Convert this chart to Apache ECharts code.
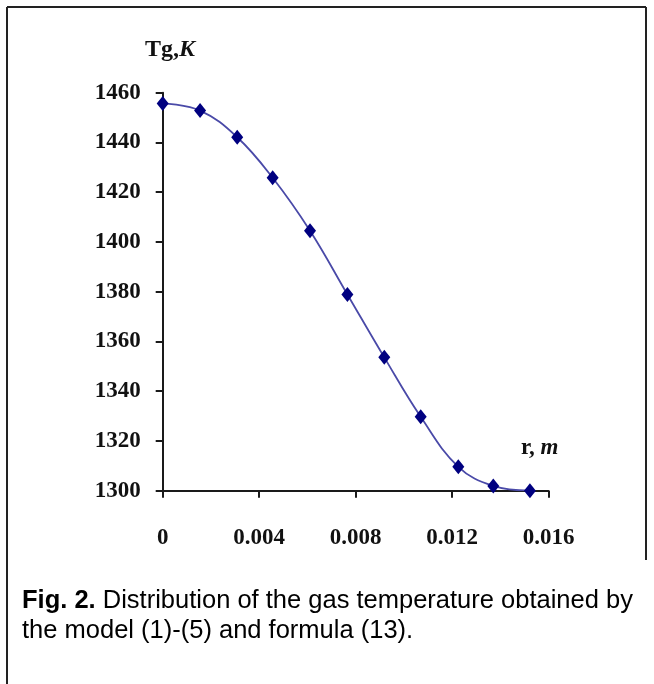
<!DOCTYPE html>
<html>
<head>
<meta charset="utf-8">
<script src="https://cdn.jsdelivr.net/npm/echarts@6/dist/echarts.min.js"></script>
<style>
html,body{margin:0;padding:0;background:#fff;}
#c{width:654px;height:684px;}
</style>
</head>
<body>
<div id="c"></div>
<script>
// Data
var rValues = [0, 0.00155, 0.00309, 0.00456, 0.00611, 0.00766, 0.00919, 0.0107, 0.01226, 0.01371, 0.01523];
var tgValues = [1455.7, 1452.8, 1442.1, 1425.8, 1404.5, 1378.9, 1353.6, 1329.7, 1309.6, 1301.9, 1300.0];
var xTickLabels = ['0', '0.004', '0.008', '0.012', '0.016'];
var yTickLabels = ['1300', '1320', '1340', '1360', '1380', '1400', '1420', '1440', '1460'];
var yAxisTitle = ['Tg,', 'K'];
var xAxisTitle = ['r, ', 'm'];
var captionBold = 'Fig. 2.';
var captionLine1 = ' Distribution of the gas temperature obtained by';
var captionLine2 = 'the model (1)-(5) and formula (13).';

var points = rValues.map(function (r, i) { return [r, tgValues[i]]; });

var chart = echarts.init(document.getElementById('c'), null, {renderer: 'canvas'});
var serif = '"Liberation Serif", "Times New Roman", serif';
var sans = '"Liberation Sans", Arial, sans-serif';
var axisColor = '#1a1a1a';

chart.setOption({
  animation: false,
  backgroundColor: '#ffffff',
  grid: {left: 162.7, right: 105.5, top: 92.7, bottom: 193.3, containLabel: false},
  xAxis: {
    type: 'value', min: 0, max: 0.016, interval: 0.004,
    axisLine: {show: true, onZero: false, lineStyle: {color: axisColor, width: 2}},
    axisTick: {show: true, inside: false, length: 7, lineStyle: {color: axisColor, width: 2}},
    splitLine: {show: false},
    axisLabel: {
      margin: 36, color: '#111', fontFamily: serif, fontWeight: 'bold', fontSize: 23,
      formatter: function (v) { return xTickLabels[Math.round(v / 0.004)]; }
    }
  },
  yAxis: {
    type: 'value', min: 1300, max: 1460, interval: 20,
    axisLine: {show: true, lineStyle: {color: axisColor, width: 2}},
    axisTick: {show: true, inside: false, length: 7, lineStyle: {color: axisColor, width: 2}},
    splitLine: {show: false},
    axisLabel: {
      margin: 22, color: '#111', fontFamily: serif, fontWeight: 'bold', fontSize: 23,
      formatter: function (v) { return yTickLabels[Math.round((v - 1300) / 20)]; }
    }
  },
  series: [{
    type: 'line',
    data: points,
    smooth: 0.4,
    symbol: 'diamond',
    symbolSize: [12, 15],
    itemStyle: {color: '#000080'},
    lineStyle: {color: '#4a4aa8', width: 1.8}
  }],
  graphic: [
    {type: 'line', shape: {x1: 7, y1: 7, x2: 646, y2: 7}, style: {stroke: '#222', lineWidth: 2}},
    {type: 'line', shape: {x1: 7, y1: 7, x2: 7, y2: 684}, style: {stroke: '#222', lineWidth: 2}},
    {type: 'line', shape: {x1: 646, y1: 7, x2: 646, y2: 560}, style: {stroke: '#222', lineWidth: 2}},
    {
      type: 'text', left: 145, top: 38,
      style: {
        text: '{a|' + yAxisTitle[0] + '}{b|' + yAxisTitle[1] + '}',
        rich: {
          a: {fontFamily: serif, fontWeight: 'bold', fontSize: 24, fill: '#111'},
          b: {fontFamily: serif, fontWeight: 'bold', fontStyle: 'italic', fontSize: 24, fill: '#111'}
        }
      }
    },
    {
      type: 'text', left: 521, top: 437,
      style: {
        text: '{a|' + xAxisTitle[0] + '}{b|' + xAxisTitle[1] + '}',
        rich: {
          a: {fontFamily: serif, fontWeight: 'bold', fontSize: 23, fill: '#111'},
          b: {fontFamily: serif, fontWeight: 'bold', fontStyle: 'italic', fontSize: 23, fill: '#111'}
        }
      }
    },
    {
      type: 'text', left: 22, top: 588,
      style: {
        text: '{b|' + captionBold + '}{n|' + captionLine1 + '}\n{n|' + captionLine2 + '}',
        rich: {
          b: {fontFamily: sans, fontWeight: 'bold', fontSize: 25.5, lineHeight: 30, fill: '#000'},
          n: {fontFamily: sans, fontSize: 25.5, lineHeight: 30, fill: '#000'}
        }
      }
    }
  ]
});
</script>
</body>
</html>
